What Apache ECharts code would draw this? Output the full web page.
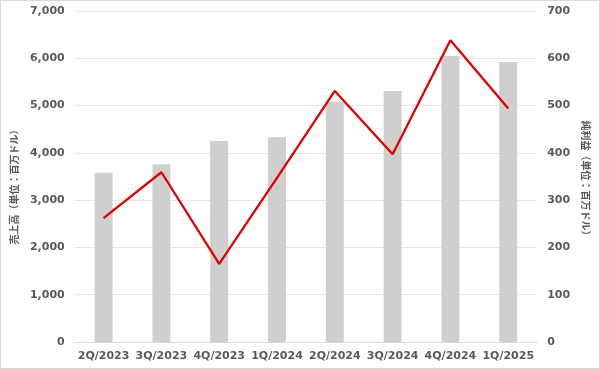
<!DOCTYPE html>
<html>
<head>
<meta charset="utf-8">
<script src="https://cdn.jsdelivr.net/npm/echarts@6/dist/echarts.min.js"></script>
<style>
html,body{margin:0;padding:0;background:#fff;}
#chart{position:absolute;left:0;top:0;width:598px;height:367px;border:1px solid #d9d9d9;}
</style>
</head>
<body>
<div id="chart"></div>
<script>
const categories = ['2Q/2023','3Q/2023','4Q/2023','1Q/2024','2Q/2024','3Q/2024','4Q/2024','1Q/2025'];
const revenue = [3580, 3760, 4250, 4330, 5080, 5310, 6050, 5920];
const netIncome = [262, 359, 165, 347, 531, 397, 638, 494];
const leftTicks = [0, 7000, 1000];
const rightTicks = [0, 700, 100];
const leftTitle = '売上高（単位：百万ドル）';
const rightTitle = '純利益（単位：百万ドル）';

const labelStyle = {color:'#595959', fontSize:11, fontWeight:'bold', fontFamily:'DejaVu Sans'};
const nameStyle = {color:'#595959', fontSize:10, fontWeight:'bold', fontFamily:'"Noto Sans CJK JP"'};

const chart = echarts.init(document.getElementById('chart'), null, {renderer:'canvas'});
chart.setOption({
  animation:false,
  grid:{left:71, right:61, top:10, bottom:26, containLabel:false},
  xAxis:{
    type:'category', data:categories,
    axisTick:{show:false},
    axisLine:{lineStyle:{color:'#d9d9d9'}},
    axisLabel:Object.assign({margin:9, interval:0}, labelStyle)
  },
  yAxis:[
    {type:'value', min:leftTicks[0], max:leftTicks[1], interval:leftTicks[2],
     name:leftTitle, nameLocation:'middle', nameGap:52, nameRotate:90,
     nameTextStyle:Object.assign({padding:[0,16,0,0]}, nameStyle),
     axisLabel:Object.assign({margin:10, formatter:v=>v.toLocaleString('en-US')}, labelStyle),
     splitLine:{lineStyle:{color:'#e6e6e6'}}, axisLine:{show:false}, axisTick:{show:false}},
    {type:'value', min:rightTicks[0], max:rightTicks[1], interval:rightTicks[2], position:'right',
     name:rightTitle, nameLocation:'middle', nameGap:40, nameRotate:-90,
     nameTextStyle:Object.assign({padding:[0,0,0,8]}, nameStyle),
     axisLabel:Object.assign({margin:10}, labelStyle),
     splitLine:{show:false}, axisLine:{show:false}, axisTick:{show:false}}
  ],
  series:[
    {type:'bar', data:revenue, yAxisIndex:0, barWidth:'31%', itemStyle:{color:'#d0cece'}},
    {type:'line', data:netIncome, yAxisIndex:1, symbol:'none', lineStyle:{color:'#e00000', width:2.3}}
  ]
});
</script>
</body>
</html>
